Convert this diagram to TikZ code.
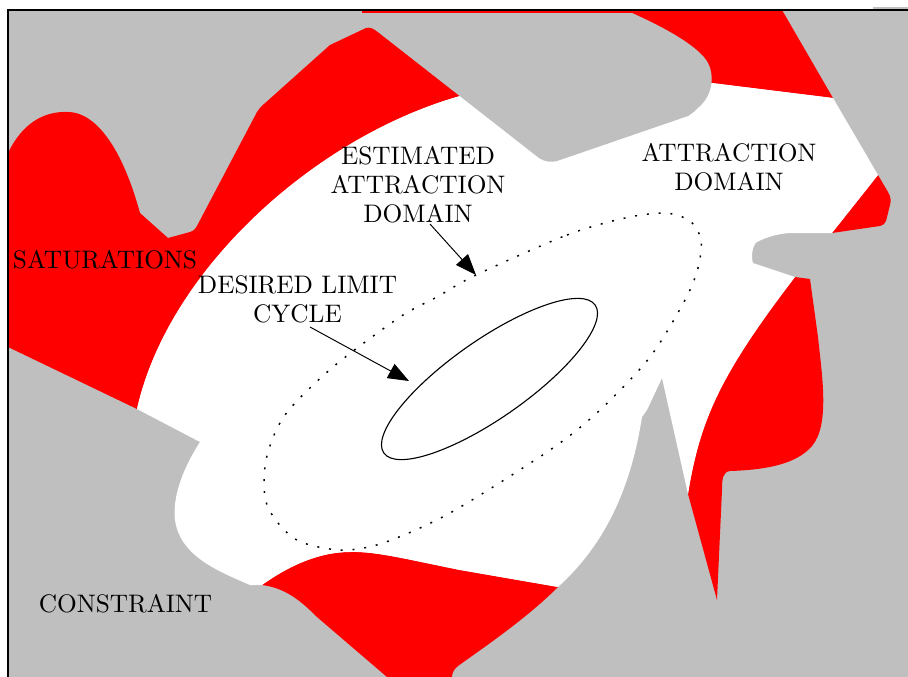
\documentclass[tikz,border=0pt]{standalone}
\usetikzlibrary{arrows.meta}
\begin{document}
\begin{tikzpicture}[x=0.4065pt,y=-0.4065pt,
  redzone/.style={fill=red},
  grayzone/.style={fill=lightgray},
  whitezone/.style={fill=white},
  lbl/.style={font=\fontsize{10.3}{11.6}\selectfont, align=center, inner sep=0pt, anchor=base},
  pointer/.style={-{Triangle[length=8.5pt,width=6.5pt]}, line width=0.4pt},
  cyclecurve/.style={line width=0.45pt},
  estcurve/.style={line width=0.6pt, dash pattern=on 0.8pt off 4pt}]
\useasboundingbox (0,0) rectangle (908,677);
% background constraint region
\fill[grayzone] (8,10) rectangle (908,677);
\fill[grayzone] (873,7) rectangle (908,10);
% saturation band, upper left
\fill[redzone] (8,153) .. controls (23,122) and (45,111) .. (68,112)
  .. controls (92,112) and (120,140) .. (140,213) -- (168,238) -- (190,232)
  .. controls (194,231) and (196,228) .. (198,224) -- (257,112) .. controls (259,109) and (261,106) .. (264,104)
  -- (330,45) -- (366,28)
  .. controls (370,27) and (374,28) .. (377,31) -- (460,96)
  .. controls (315,137) and (168,270) .. (137,409) -- (8,347) -- cycle;
% saturation, top right
\fill[redzone] (362,10) -- (782,10) -- (833,98) -- (712,83) -- (600,100) -- (362,14) -- cycle;
% small saturation patch on the right
\fill[redzone] (832,233) -- (878,175) -- (888,192) .. controls (891,197) and (891,201) .. (890,205)
  -- (886,221) .. controls (885,224) and (883,225) .. (880,226) -- cycle;
% saturation, right
\fill[redzone] (795,277) -- (810,279) -- (818,337) .. controls (822,375) and (830,425) .. (812,446)
  .. controls (795,466) and (760,470) .. (730,471) .. controls (723,472) and (722,478) .. (722,490)
  -- (717,600) -- (688,494) .. controls (700,420) and (720,375) .. (795,277) -- cycle;
% saturation, bottom
\fill[redzone] (262,585) .. controls (290,565) and (320,552) .. (350,552)
  .. controls (375,551) and (410,560) .. (460,570) -- (558,587)
  .. controls (525,620) and (480,650) .. (458,666) .. controls (453,670) and (452,674) .. (452,677)
  -- (387,677) -- (317,617) .. controls (300,600) and (285,588) .. (262,585) -- cycle;
% attraction domain
\fill[whitezone] (460,96) -- (540,158) -- (600,130) -- (712,83) -- (833,98) -- (878,175) -- (832,233)
  -- (790,233) .. controls (775,234) and (765,238) .. (757,242) .. controls (752,245) and (751,258) .. (753,263)
  -- (795,277) .. controls (720,375) and (700,420) .. (688,494) -- (662,378) -- (647,410) -- (642,417)
  .. controls (632,480) and (610,540) .. (558,587) -- (460,570)
  .. controls (410,560) and (375,551) .. (350,552) .. controls (320,552) and (290,565) .. (262,585)
  -- (250,585) .. controls (215,570) and (180,555) .. (175,520) .. controls (172,495) and (185,465) .. (200,442)
  -- (137,409) .. controls (168,270) and (315,137) .. (460,96) -- cycle;
% constraint blob at the top
\fill[grayzone] (360,13) -- (632,13) .. controls (670,30) and (700,48) .. (708,63)
  .. controls (715,76) and (712,95) .. (700,106) .. controls (696,110) and (693,113) .. (688,116)
  -- (560,160) .. controls (552,163) and (545,162) .. (539,158) -- (378,32)
  .. controls (374,29) and (371,27) .. (366,27) -- cycle;
% frame
\draw[line width=0.6pt] (8,677) -- (8,10) -- (908,10);
% estimated attraction domain
\draw[estcurve] plot[smooth cycle] coordinates {(476,275) (567,235) (625,218) (665,213) (690,221) (701,240)
  (698,268) (685,300) (650,357) (600,410) (550,450) (450,513) (383,543) (340,550) (295,539) (267,505)
  (266,460) (285,415) (333,367) (400,317) (437,297)};
% desired limit cycle
\draw[cyclecurve, rotate around={35:(489.5,379)}] (489.5,379) ellipse [x radius=129, y radius=39];
% labels
\node[lbl] (estlbl) at (418,222) {ESTIMATED\\ATTRACTION\\DOMAIN};
\node[lbl] (attlbl) at (729,190) {ATTRACTION\\DOMAIN};
\node[lbl] (deslbl) at (297.5,322) {DESIRED LIMIT\\CYCLE};
\node[lbl] (satlbl) at (105,268) {SATURATIONS};
\node[lbl] (conlbl) at (125.5,612) {CONSTRAINT};
% pointers
\coordinate (estfrom) at (430,224);
\coordinate (estto) at (476,275);
\coordinate (desfrom) at (310,327);
\coordinate (desto) at (409,381);
\draw[pointer] (estfrom) -- (estto);
\draw[pointer] (desfrom) -- (desto);
\end{tikzpicture}
\end{document}
